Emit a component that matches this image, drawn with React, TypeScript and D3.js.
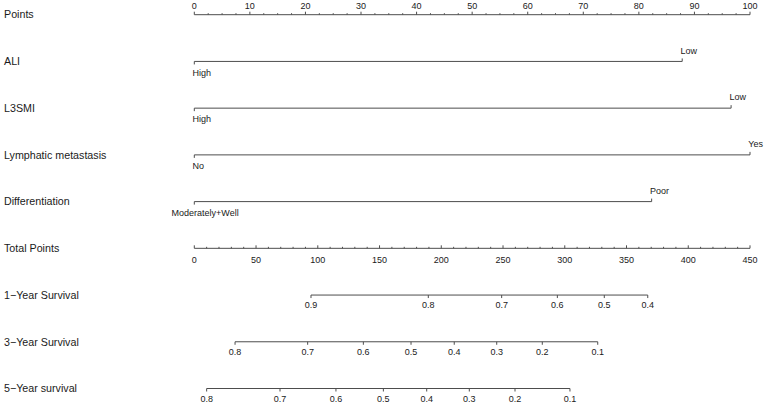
import React from "react";
import * as d3 from "d3";

// nomogram rows, top to bottom
const pointsMax = 100;
const totalMax = 450;

const variableNames = ["ALI", "L3SMI", "Lymphatic metastasis", "Differentiation"];
const variableLevels = [
  ["High", "Low"],
  ["High", "Low"],
  ["No", "Yes"],
  ["Moderately+Well", "Poor"],
];
const variablePoints = [
  [0, 87.8],
  [0, 96.6],
  [0, 100],
  [0, 82.3],
];

const survivalNames = ["1\u2212Year Survival", "3\u2212Year Survival", "5\u2212Year survival"];
const survivalProbs = [
  ["0.9", "0.8", "0.7", "0.6", "0.5", "0.4"],
  ["0.8", "0.7", "0.6", "0.5", "0.4", "0.3", "0.2", "0.1"],
  ["0.8", "0.7", "0.6", "0.5", "0.4", "0.3", "0.2", "0.1"],
];
// total points where each probability tick sits
const survivalTotalPoints = [
  [94.5, 189.5, 248.9, 294.0, 332.0, 367.2],
  [33.0, 91.8, 136.9, 175.5, 210.5, 244.9, 281.8, 326.7],
  [10.0, 69.4, 114.7, 153.1, 188.2, 222.7, 259.7, 304.2],
];

const width = 764;
const height = 404;
const font = "'Liberation Sans', Arial, Helvetica, sans-serif";
const ink = "#1a1a1a";
const lineColor = "#4d4d4d";

export default function App() {
  const xPts = d3.scaleLinear().domain([0, pointsMax]).range([194.3, 750]);
  const xTot = d3.scaleLinear().domain([0, totalMax]).range([194.3, 750]);
  const yRow = d3.scaleLinear().domain([0, 8]).range([14.7, 388.5]);

  const rowNames = ["Points", ...variableNames, "Total Points", ...survivalNames];

  const ptsMajor = d3.range(0, pointsMax + 1, 10);
  const ptsMinor = d3.range(0, pointsMax + 0.01, 2.5).filter((v) => v % 10 !== 0);
  const totMajor = d3.range(0, totalMax + 1, 50);
  const totMinor = d3.range(0, totalMax + 1, 10).filter((v) => v % 50 !== 0);

  // long level labels get nudged left, as in the original
  const levelShift: Record<string, number> = { "Moderately+Well": -21 };

  const yP = yRow(0);
  const yT = yRow(5);

  return (
    <svg width={width} height={height} style={{ position: "absolute", left: 0, top: 0 }} fontFamily={font}>
      <rect width={width} height={height} fill="#fff" />

      {rowNames.map((n, i) => (
        <text key={n} x={4} y={yRow(i)} dy="0.35em" fontSize={10.7} fill={ink}>
          {n}
        </text>
      ))}

      {/* Points axis */}
      <g stroke={lineColor} strokeWidth={1}>
        <line x1={xPts(0)} x2={xPts(pointsMax)} y1={yP} y2={yP} />
        {ptsMajor.map((v) => (
          <line key={"M" + v} x1={xPts(v)} x2={xPts(v)} y1={yP} y2={yP - 3} />
        ))}
        {ptsMinor.map((v) => (
          <line key={"m" + v} x1={xPts(v)} x2={xPts(v)} y1={yP} y2={yP - 1.5} />
        ))}
      </g>
      {ptsMajor.map((v) => (
        <text key={"pt" + v} x={xPts(v)} y={yP - 6} textAnchor="middle" fontSize={9} fill={ink}>
          {v}
        </text>
      ))}

      {/* predictors */}
      {variableNames.map((name, i) => {
        const y = yRow(i + 1);
        const pts = variablePoints[i];
        return (
          <g key={name}>
            <line x1={xPts(pts[0])} x2={xPts(pts[pts.length - 1])} y1={y} y2={y} stroke={lineColor} />
            {pts.map((p, j) => {
              const below = j % 2 === 0;
              const lab = variableLevels[i][j];
              return (
                <g key={lab}>
                  <line x1={xPts(p)} x2={xPts(p)} y1={y} y2={below ? y + 3 : y - 3} stroke={lineColor} />
                  <text
                    x={xPts(p) - 1.7 + (levelShift[lab] || 0)}
                    y={below ? y + 11 : y - 11}
                    dy="0.35em"
                    fontSize={9}
                    fill={ink}
                  >
                    {lab}
                  </text>
                </g>
              );
            })}
          </g>
        );
      })}

      {/* Total points axis */}
      <g stroke={lineColor} strokeWidth={1}>
        <line x1={xTot(0)} x2={xTot(totalMax)} y1={yT} y2={yT} />
        {totMajor.map((v) => (
          <line key={"M" + v} x1={xTot(v)} x2={xTot(v)} y1={yT} y2={yT - 3} />
        ))}
        {totMinor.map((v) => (
          <line key={"m" + v} x1={xTot(v)} x2={xTot(v)} y1={yT} y2={yT - 1.5} />
        ))}
      </g>
      {totMajor.map((v) => (
        <text key={"tt" + v} x={xTot(v)} y={yT + 12} dy="0.35em" textAnchor="middle" fontSize={9} fill={ink}>
          {v}
        </text>
      ))}

      {/* survival axes */}
      {survivalNames.map((name, i) => {
        const y = yRow(i + 6);
        const tp = survivalTotalPoints[i];
        return (
          <g key={name}>
            <line x1={xTot(tp[0])} x2={xTot(tp[tp.length - 1])} y1={y} y2={y} stroke={lineColor} />
            {tp.map((v, j) => (
              <g key={j}>
                <line x1={xTot(v)} x2={xTot(v)} y1={y} y2={y + 3} stroke={lineColor} />
                <text x={xTot(v)} y={y + 10.5} dy="0.3em" textAnchor="middle" fontSize={9} fill={ink}>
                  {survivalProbs[i][j]}
                </text>
              </g>
            ))}
          </g>
        );
      })}
    </svg>
  );
}
